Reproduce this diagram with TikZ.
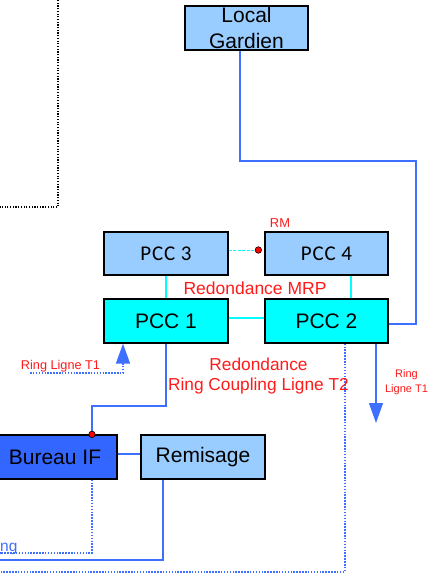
\documentclass[tikz,border=0pt]{standalone}
\usepackage{fontspec}
\setmainfont{Liberation Sans}
\newfontfamily\calfont[LetterSpace=4]{Carlito}
\usetikzlibrary{arrows.meta}
\definecolor{lblue}{HTML}{99CCFF}
\definecolor{bif}{HTML}{3366FF}
\definecolor{wire}{HTML}{3F6FFF}
\definecolor{mrp}{HTML}{00FFFF}
\definecolor{lab}{HTML}{FF1A1A}
\tikzset{
  box/.style={draw=black, line width=1.3pt, minimum width=124pt, minimum height=44pt,
              inner sep=0pt, font=\fontsize{21}{26}\selectfont, align=center},
  wirel/.style={draw=wire, line width=1.3pt},
  dotl/.style={draw=wire, line width=1.5pt, dash pattern=on 1.5pt off 1.4pt},
  ring/.style={draw=mrp, line width=1.2pt},
  redlab/.style={text=lab, inner sep=0pt, align=center},
  reddot/.style={circle, fill=red, draw=black, line width=0.6pt, inner sep=0pt, minimum size=6.5pt},
  tip/.style={-{Triangle[length=20pt,width=14pt,fill=wire]}}
}
\begin{document}
\begin{tikzpicture}[x=1pt,y=-1pt]
\useasboundingbox (0,0) rectangle (440,576);
\clip (0,0) rectangle (440,576);

% dotted frame corner of the neighbouring area
\draw[black, line width=1.2pt, dash pattern=on 1.2pt off 1.5pt] (58,0) -- (58,207) -- (0,207);

% equipment rooms
\node[box, fill=lblue, minimum width=123pt] (lg) at (246.5,28) {Local\\Gardien};
\node[box, fill=lblue, minimum height=43pt, font=\calfont\fontsize{21}{24}\selectfont] (pcc3) at (166,253.5) {PCC 3};
\node[box, fill=lblue, minimum height=43pt, minimum width=123pt, font=\calfont\fontsize{21}{24}\selectfont] (pcc4) at (326.5,253.5) {PCC 4};
\node[box, fill=mrp] (pcc1) at (166,321) {PCC 1};
\node[box, fill=mrp, minimum width=123pt] (pcc2) at (326.5,321) {PCC 2};
\node[box, fill=bif] (bif) at (55,457) {Bureau IF};
\node[box, fill=lblue] (rem) at (203,457) {Remisage};

% MRP ring between the control centres
\draw[ring] (pcc3.south) -- (pcc1.north);
\draw[ring] ([xshift=24.5pt]pcc4.south) -- ([xshift=24.5pt]pcc2.north);
\draw[ring] ([yshift=3pt]pcc1.east) -- ([yshift=3pt]pcc2.west);
\coordinate (rm) at ([xshift=-6pt,yshift=3.5pt]pcc4.west);
\draw[ring, line width=1pt, dash pattern=on 3pt off 1.5pt] ([yshift=3.5pt]pcc3.east) -- (rm);
\node[reddot] (rmdot) at (rm) {};

% fibre links
\draw[wirel] ([xshift=-6.5pt]lg.south) |- (416,161) |- ([yshift=-3pt]pcc2.east);
\draw[wirel] (pcc1.south) |- (92,406) -- ([xshift=37pt]bif.north);
\node[reddot] (bifdot) at ([xshift=37pt]bif.north) {};
\draw[wirel] ([yshift=3pt]bif.east) -- ([yshift=3pt]rem.west);
\draw[wirel] ([xshift=-40pt]rem.south) |- (0,560);
\draw[dotl] ([xshift=37pt]bif.south) |- (0,553);
\draw[dotl] ([xshift=18.5pt]pcc2.south) |- (0,572);

% T1 ring arrows
\coordinate (t1in) at (30,373);
\draw[dotl, tip] (t1in) -| ([xshift=-43pt]pcc1.south);
\coordinate (t1out) at (376,423);
\draw[wirel, tip] ([xshift=49.5pt]pcc2.south) -- (t1out);

% labels
\node[redlab, anchor=base, font=\fontsize{12.9}{15}\selectfont] (rmlab) at (280,227) {RM};
\node[redlab, anchor=base, font=\fontsize{17.5}{20}\selectfont] (mrplab) at (255,294) {Redondance MRP};
\node[redlab, anchor=base, font=\fontsize{17.3}{20.7}\selectfont] (t2lab) at (258.5,390.7) {Redondance\\Ring Coupling Ligne T2};
\node[redlab, anchor=base, font=\fontsize{12.7}{15}\selectfont] (t1l) at (60.5,369) {Ring Ligne T1};
\node[redlab, anchor=base, font=\fontsize{11}{15}\selectfont] (t1r) at (406.5,392) {Ring\\Ligne T1};
\node[text=wire, inner sep=0pt, anchor=base west, font=\fontsize{15.5}{18}\selectfont] (ringlab) at (0,551) {ng};
\end{tikzpicture}
\end{document}
